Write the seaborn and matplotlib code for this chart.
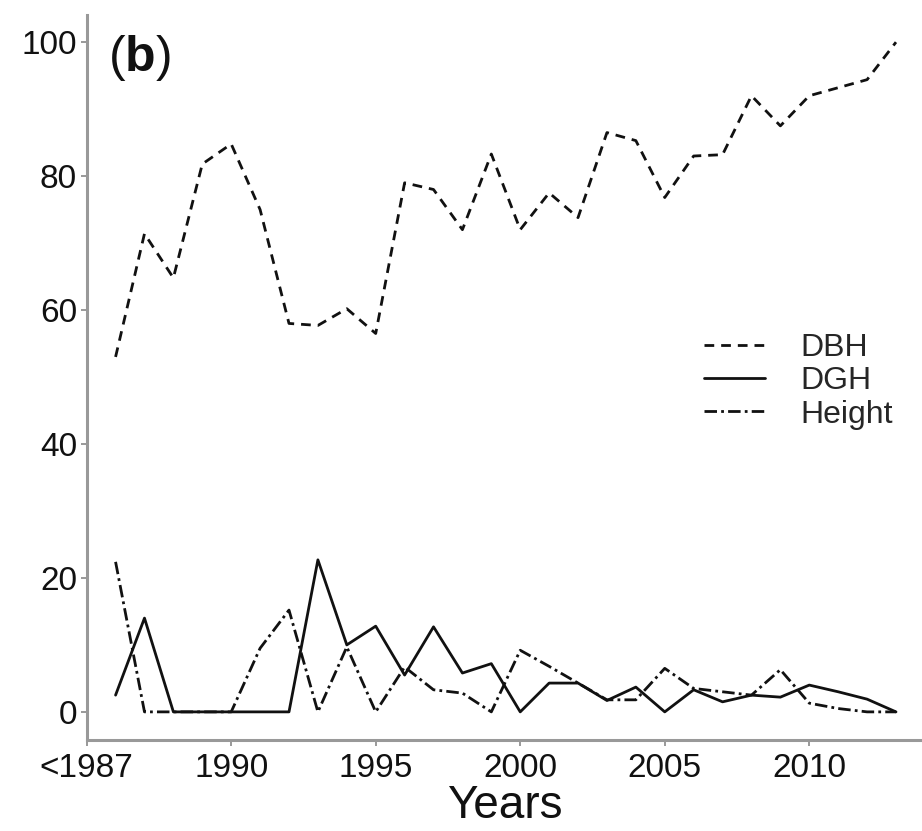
import pandas as pd
import matplotlib.pyplot as plt
import seaborn as sns

# values (1986 stands for "<1987")
years = list(range(1986, 2014))
dbh = [53, 71.4, 64.8, 81.8, 84.8, 75, 58, 57.7, 60.2, 56.5, 79, 78, 72, 83.3,
       72, 77.5, 73.8, 86.5, 85.3, 76.8, 83, 83.2, 92, 87.5, 92, 93.2, 94.4, 100]
dgh = [2.5, 14, 0, 0, 0, 0, 0, 22.7, 10, 12.8, 5.5, 12.7, 5.8, 7.2,
       0, 4.3, 4.3, 1.7, 3.7, 0, 3.3, 1.5, 2.5, 2.2, 4, 3, 1.9, 0]
height = [22.4, 0, 0, 0, 0, 9.5, 15.2, 0, 9.7, 0, 6.7, 3.3, 2.8, 0,
          9.2, 6.8, 4.3, 1.8, 1.8, 6.5, 3.5, 3, 2.5, 6.3, 1.3, 0.5, 0, 0]

tick_pos = [1985, 1990, 1995, 2000, 2005, 2010]
tick_labels = ['<1987', '1990', '1995', '2000', '2005', '2010']

df = pd.DataFrame({'year': years, 'DBH': dbh, 'DGH': dgh, 'Height': height})
df_long = df.melt(id_vars='year', var_name='variable', value_name='value')

sns.set_style('ticks')
plt.rcParams['font.family'] = ['Liberation Sans', 'DejaVu Sans']
plt.rcParams['mathtext.fontset'] = 'custom'
plt.rcParams['mathtext.bf'] = 'Liberation Sans:bold'
plt.rcParams['mathtext.rm'] = 'Liberation Sans'

fig = plt.figure(figsize=(9.22, 8.31), dpi=100)
ax = fig.add_axes([0.094, 0.1095, 0.906, 0.872])

sns.lineplot(data=df_long, x='year', y='value', style='variable',
             dashes={'DBH': (3.5, 2.5), 'DGH': '', 'Height': (4.5, 1.5, 1, 1.5)},
             color='#111111', linewidth=2.0, ax=ax)

ax.set_xlim(1985, 2013.9)
ax.set_ylim(-4.2, 104)
ax.set_xticks(tick_pos)
ax.set_xticklabels(tick_labels)
ax.set_yticks([0, 20, 40, 60, 80, 100])
ax.tick_params(axis='x', pad=5)
ax.tick_params(labelsize=24, color='#888888', length=4, width=1.2,
               labelcolor='#111111')
ax.tick_params(axis='y', pad=3)
for s in ['left', 'bottom']:
    ax.spines[s].set_color('#999999')
    ax.spines[s].set_linewidth(2.2)
sns.despine(ax=ax)

ax.set_xlabel('Years', fontsize=33, labelpad=0, color='#111111')
ax.set_ylabel('')

ax.text(0.025, 0.975, r'($\mathbf{b}$)', transform=ax.transAxes, fontsize=36,
        va='top', ha='left', color='#111111')

leg = ax.legend(title=None, frameon=False, fontsize=23, loc='center left',
                bbox_to_anchor=(0.705, 0.495), handlelength=1.9, handletextpad=1.1,
                labelspacing=0.1)

fig.savefig('out.png', dpi=100)
